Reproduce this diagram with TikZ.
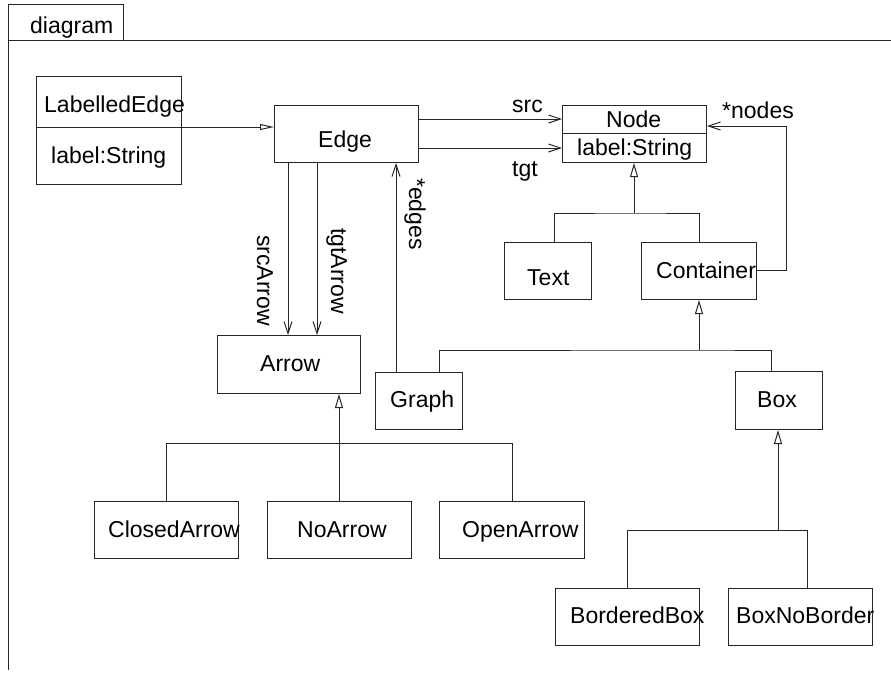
\documentclass[tikz,border=0pt]{standalone}
\usepackage{fontspec}
\setmainfont{Liberation Sans}
\usetikzlibrary{arrows.meta}

% class box given by its corners (x1,y1) and (x2,y2)
\newcommand\classbox[5]{%
  \node[cls, minimum width={(#4-#2)*1pt}, minimum height={(#5-#3)*1pt}] (#1) at (#2,#3) {};}

\begin{document}
\begin{tikzpicture}[x=1pt, y=-1pt,
  cls/.style={draw=black!85, line width=1pt, rectangle, inner sep=0pt, anchor=north west},
  lbl/.style={inner sep=0pt, anchor=base west, font=\fontsize{23}{27}\selectfont, text=black},
  ln/.style={draw=black!85, line width=1pt},
  gen/.style={ln, -{Triangle[open, length=14pt, width=8pt]}},
  genthin/.style={ln, -{Triangle[open, length=14pt, width=6pt]}},
  assoc/.style={ln, -{Straight Barb[length=12pt, width=8pt]}}]
\useasboundingbox (0,0) rectangle (891,673);
\fill[white] (0,0) rectangle (891,673);

% frame with its name tab
\classbox{tab}{8}{4}{123}{40}
\node[lbl] (tab-name) at (30,33) {diagram};
\draw[ln] (8,40) -- (891,40);
\draw[ln] (8,4) -- (8,670);

% classes
\classbox{labelled}{36}{76}{181}{184}
\classbox{edge}{274}{105}{418}{162}
\classbox{node}{562}{105}{706}{162}
\classbox{text}{504}{242}{591}{299}
\classbox{container}{641}{242}{756}{299}
\classbox{arrow}{217}{335}{360}{393}
\classbox{graph}{375}{372}{462}{429}
\classbox{box}{735}{371}{822}{429}
\classbox{closed}{94}{501}{238}{558}
\classbox{noarrow}{267}{501}{411}{558}
\classbox{open}{439}{501}{584}{558}
\classbox{bordered}{555}{588}{699}{645}
\classbox{noborder}{728}{588}{872}{645}

% attribute compartments
\draw[ln] (labelled.west |- 0,127) -- (labelled.east |- 0,127);
\draw[ln] (node.west |- 0,133) -- (node.east |- 0,133);

% class names and attributes
\node[lbl] (labelled-name) at (44,112) {LabelledEdge};
\node[lbl] (labelled-attr) at (51,163) {label:String};
\node[lbl] (edge-name) at (318,147) {Edge};
\node[lbl] (node-name) at (606,127) {Node};
\node[lbl] (node-attr) at (577,155) {label:String};
\node[lbl] (text-name) at (527,285) {Text};
\node[lbl] (container-name) at (656,278) {Container};
\node[lbl] (arrow-name) at (260,371) {Arrow};
\node[lbl] (graph-name) at (390,407) {Graph};
\node[lbl] (box-name) at (757,407) {Box};
\node[lbl] (closed-name) at (108,537) {ClosedArrow};
\node[lbl] (noarrow-name) at (297,537) {NoArrow};
\node[lbl] (open-name) at (462,537) {OpenArrow};
\node[lbl] (bordered-name) at (570,623) {BorderedBox};
\node[lbl] (noborder-name) at (736,623) {BoxNoBorder};

% association role names
\node[lbl] (src-role) at (512,112) {src};
\node[lbl] (tgt-role) at (512,176) {tgt};
\node[lbl] (nodes-role) at (722,118) {*nodes};
\node[lbl, rotate=-90] (srcarrow-role) at (257,235) {srcArrow};
\node[lbl, rotate=-90] (tgtarrow-role) at (331,228) {tgtArrow};
\node[lbl, rotate=-90] (edges-role) at (409,178) {*edges};

% associations
\draw[assoc] (edge.east |- 0,119) -- (node.west |- 0,119);
\draw[assoc] (edge.east |- 0,148) -- (node.west |- 0,148);
\draw[assoc] (edge.south -| 288,0) -- (arrow.north -| 288,0);
\draw[assoc] (edge.south -| 317,0) -- (arrow.north -| 317,0);
\draw[assoc] (graph.north -| 396,0) -- (edge.south -| 396,0);
\coordinate (nodes-bend) at (786,126);
\draw[assoc] (container.east |- 0,270) -| (nodes-bend) -- (node.east |- nodes-bend);

% generalizations
\draw[genthin] (labelled.east |- 0,127) -- (edge.west |- 0,127);

\coordinate (nodetree) at (634,213);
\draw[ln] (text.north -| 554,0) |- (nodetree) -| (container.north -| 699,0);
\draw[gen] (nodetree) -- (node.south -| nodetree);

\coordinate (containertree) at (699,350);
\draw[ln] (graph.north -| 439,0) |- (containertree) -| (box.north -| 771,0);
\draw[gen] (containertree) -- (container.south -| containertree);

\coordinate (arrowtree) at (339,443);
\draw[ln] (closed.north -| 166,0) |- (arrowtree) -| (open.north -| 512,0);
\draw[gen] (noarrow.north -| arrowtree) -- (arrow.south -| arrowtree);

\coordinate (boxtree) at (778,530);
\draw[ln] (bordered.north -| 627,0) |- (boxtree) -| (noborder.north -| 807,0);
\draw[gen] (boxtree) -- (box.south -| boxtree);
\end{tikzpicture}
\end{document}
